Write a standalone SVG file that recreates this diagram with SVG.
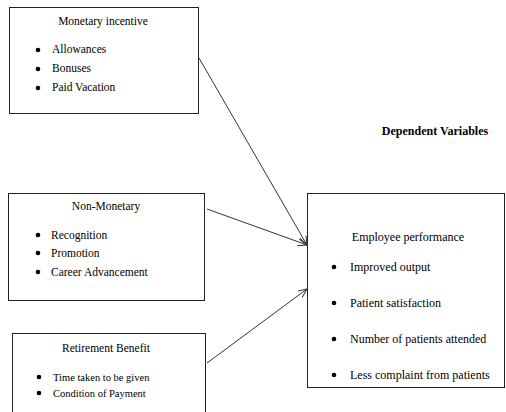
<svg xmlns="http://www.w3.org/2000/svg" width="506" height="412" viewBox="0 0 506 412">
<style>
.box{fill:#fff;stroke:#222;stroke-width:1}
.t{font-family:"Liberation Serif","Times New Roman",serif;fill:#000}
.f115{font-size:11.5px}
.f12{font-size:12px}
.f105{font-size:10.5px}
.c{text-anchor:middle}
.b{font-weight:bold}
.dot{fill:#000}
.conn{stroke:#333;stroke-width:1;fill:none;marker-end:url(#ah)}
</style>
<defs>
<marker id="ah" markerUnits="userSpaceOnUse" markerWidth="12" markerHeight="10" refX="9" refY="4" orient="auto">
<path d="M0,0 L9,4 L0,8" fill="none" stroke="#333" stroke-width="1"/>
</marker>
</defs>
<rect width="506" height="412" fill="#fff"/>
<g id="monetary">
<rect class="box" x="9.5" y="7.5" width="189" height="106"/>
<text class="t f115 c" x="103" y="25">Monetary incentive</text>
<circle class="dot" cx="38" cy="50" r="2.3"/>
<circle class="dot" cx="38" cy="69" r="2.3"/>
<circle class="dot" cx="38" cy="88" r="2.3"/>
<text class="t f115" x="52" y="53">Allowances</text>
<text class="t f115" x="52" y="72">Bonuses</text>
<text class="t f115" x="52" y="91">Paid Vacation</text>
</g>
<g id="nonmonetary">
<rect class="box" x="8.5" y="193.5" width="196" height="107"/>
<text class="t f115 c" x="106" y="210">Non-Monetary</text>
<circle class="dot" cx="38" cy="235" r="2.3"/>
<circle class="dot" cx="38" cy="253" r="2.3"/>
<circle class="dot" cx="38" cy="272" r="2.3"/>
<text class="t f115" x="51" y="239">Recognition</text>
<text class="t f115" x="51" y="257">Promotion</text>
<text class="t f115" x="51" y="276">Career Advancement</text>
</g>
<g id="retirement">
<rect class="box" x="12.5" y="333.5" width="193" height="100"/>
<text class="t f115 c" x="106" y="352">Retirement Benefit</text>
<circle class="dot" cx="39" cy="377" r="2.3"/>
<circle class="dot" cx="39" cy="393" r="2.3"/>
<text class="t f105" x="53" y="381">Time taken to be given</text>
<text class="t f105" x="53" y="397">Condition of Payment</text>
</g>
<g id="performance">
<rect class="box" x="307.5" y="193.5" width="197" height="194"/>
<text class="t f12 c" x="408" y="241">Employee performance</text>
<circle class="dot" cx="334" cy="267" r="2.3"/>
<circle class="dot" cx="334" cy="303" r="2.3"/>
<circle class="dot" cx="334" cy="339" r="2.3"/>
<circle class="dot" cx="334" cy="375" r="2.3"/>
<text class="t f12" x="350" y="271">Improved output</text>
<text class="t f12" x="350" y="307">Patient satisfaction</text>
<text class="t f12" x="350" y="343">Number of patients attended</text>
<text class="t f12" x="350" y="379">Less complaint from patients</text>
</g>
<g id="label">
<text class="t f12 b c" x="435" y="135">Dependent Variables</text>
</g>
<g id="connectors">
<line class="conn" x1="199" y1="58" x2="307" y2="245"/>
<line class="conn" x1="207" y1="209" x2="307" y2="245"/>
<line class="conn" x1="207" y1="363" x2="307" y2="289"/>
</g>
</svg>
